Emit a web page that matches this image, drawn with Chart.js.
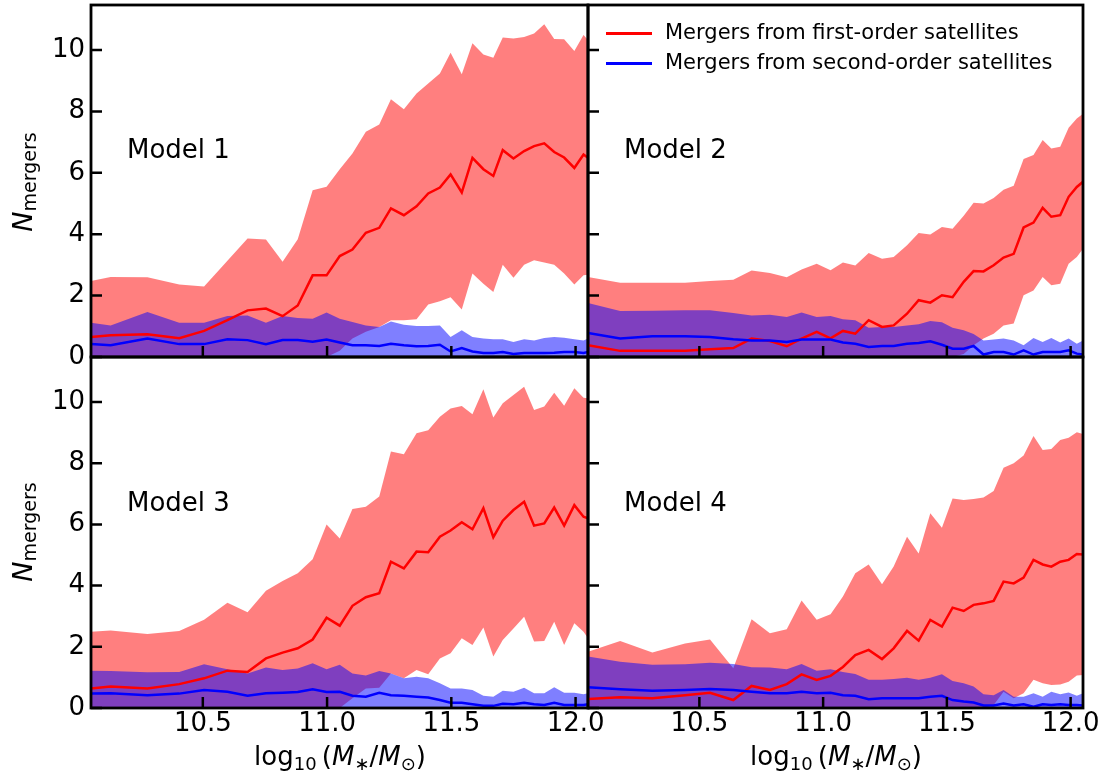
<!DOCTYPE html>
<html>
<head>
<meta charset="utf-8">
<script src="https://cdn.jsdelivr.net/npm/chart.js@4.4.1/dist/chart.umd.min.js"></script>
<style>
    body { margin: 0; width: 1106px; height: 777px; position: relative; overflow: hidden; background: #fff; font-family: "DejaVu Sans", sans-serif; color: #000; }
    canvas { position: absolute; left: 0; top: 0; }
    .txt { position: absolute; z-index: 5; white-space: nowrap; line-height: 1; }
    .model { font-size: 26px; }
    .legend { font-size: 21px; }
    .key { position: absolute; z-index: 5; width: 46px; height: 2.5px; }
    .ylab { font-size: 27px; line-height: 27px; transform: translate(-50%, -50%) rotate(-90deg); }
    .xlab { font-size: 26px; transform: translateX(-50%); }
    .sub { position: relative; font-size: 19px; top: 4px; }
    .xsub { position: relative; font-size: 18px; top: 5px; }
</style>
</head>
<body>
<div class="txt model" style="left:127px; top:136px;">Model 1</div>
<div class="txt model" style="left:624px; top:136px;">Model 2</div>
<div class="txt model" style="left:127px; top:489px;">Model 3</div>
<div class="txt model" style="left:624px; top:489px;">Model 4</div>

<div class="key" style="left:606px; top:32px; background:#ff0000;"></div>
<div class="txt legend" style="left:665px; top:22px;">Mergers from first-order satellites</div>
<div class="key" style="left:606px; top:62px; background:#0000ff;"></div>
<div class="txt legend" style="left:665px; top:52px;">Mergers from second-order satellites</div>

<div class="txt ylab" style="left:24px; top:182px;"><i>N</i><span class="sub">mergers</span></div>
<div class="txt ylab" style="left:24px; top:532px;"><i>N</i><span class="sub">mergers</span></div>
<div class="txt xlab" style="left:340px; top:743px;">log<span class="xsub">10</span>&#8201;(<i>M</i><span class="xsub">&#8727;</span>/<i>M</i><span class="xsub">&#8857;</span>)</div>
<div class="txt xlab" style="left:836px; top:743px;">log<span class="xsub">10</span>&#8201;(<i>M</i><span class="xsub">&#8727;</span>/<i>M</i><span class="xsub">&#8857;</span>)</div>

<script>
// stellar mass bins (log10 M*/Msun); models 1 & 3 share one set, 2 & 4 the other
const massBinsA = [10.05, 10.129, 10.277, 10.405, 10.505, 10.599, 10.680, 10.754, 10.821, 10.882, 10.942, 10.998,
    11.051, 11.102, 11.156, 11.210, 11.257, 11.309, 11.360, 11.407, 11.454, 11.497, 11.542, 11.585,
    11.629, 11.669, 11.707, 11.750, 11.793, 11.833, 11.874, 11.914, 11.954, 11.995, 12.032, 12.05];
const massBinsB = [10.05, 10.180, 10.310, 10.442, 10.543, 10.637, 10.711, 10.785, 10.853, 10.913, 10.974, 11.030,
    11.080, 11.130, 11.184, 11.238, 11.285, 11.339, 11.386, 11.433, 11.480, 11.523, 11.568, 11.608,
    11.648, 11.689, 11.729, 11.770, 11.810, 11.850, 11.887, 11.922, 11.958, 11.992, 12.025, 12.05];

const xTicks = [10.5, 11.0, 11.5, 12.0];
const yTicks = [0, 2, 4, 6, 8, 10];

// lower edge of the second-order band sits on zero for every model
const secondLow = [0, 0, 0, 0, 0, 0, 0, 0, 0, 0, 0, 0, 0, 0, 0, 0, 0, 0,
    0, 0, 0, 0, 0, 0, 0, 0, 0, 0, 0, 0, 0, 0, 0, 0, 0, 0];

// Model 1
const m1FirstMid = [0.65, 0.71, 0.74, 0.61, 0.85, 1.20, 1.52, 1.58, 1.33, 1.68, 2.66, 2.66,
    3.29, 3.50, 4.05, 4.21, 4.84, 4.62, 4.91, 5.33, 5.52, 5.95, 5.36, 6.49,
    6.12, 5.90, 6.74, 6.47, 6.71, 6.87, 6.96, 6.68, 6.50, 6.16, 6.60, 6.49];
const m1FirstHigh = [2.48, 2.61, 2.60, 2.36, 2.30, 3.14, 3.86, 3.83, 3.10, 3.84, 5.43, 5.55,
    6.12, 6.63, 7.34, 7.58, 8.40, 8.07, 8.59, 8.91, 9.24, 9.91, 9.21, 10.22,
    9.86, 9.75, 10.41, 10.38, 10.43, 10.54, 10.84, 10.36, 10.35, 9.97, 10.49, 10.33];
const m1FirstLow = [0, 0, 0, 0, 0, 0, 0, 0, 0, 0, 0, 0,
    0.20, 0.60, 0.82, 0.98, 1.20, 1.20, 1.23, 1.71, 1.82, 1.95, 1.55, 2.72,
    2.39, 2.12, 3.01, 2.58, 3.01, 3.15, 3.08, 3.01, 2.72, 2.36, 2.66, 2.68];
const m1SecondMid = [0.42, 0.38, 0.60, 0.42, 0.42, 0.58, 0.55, 0.42, 0.55, 0.55, 0.50, 0.57,
    0.47, 0.38, 0.38, 0.36, 0.43, 0.38, 0.35, 0.36, 0.40, 0.18, 0.29, 0.18,
    0.13, 0.13, 0.16, 0.10, 0.13, 0.13, 0.13, 0.14, 0.16, 0.16, 0.13, 0.16];
const m1SecondHigh = [1.12, 1.03, 1.47, 1.12, 1.12, 1.34, 1.35, 1.12, 1.34, 1.27, 1.25, 1.45,
    1.25, 1.14, 1.03, 0.98, 1.16, 1.05, 1.01, 1.01, 1.03, 0.65, 0.87, 0.65,
    0.60, 0.58, 0.58, 0.49, 0.58, 0.54, 0.62, 0.65, 0.63, 0.58, 0.54, 0.60];

// Model 2
const m2FirstMid = [0.38, 0.20, 0.20, 0.20, 0.25, 0.29, 0.60, 0.52, 0.35, 0.60, 0.82, 0.61,
    0.85, 0.76, 1.20, 0.98, 1.03, 1.41, 1.85, 1.77, 2.01, 1.95, 2.45, 2.80,
    2.79, 2.99, 3.24, 3.36, 4.22, 4.38, 4.86, 4.57, 4.62, 5.22, 5.54, 5.71];
const m2FirstHigh = [2.61, 2.42, 2.42, 2.42, 2.48, 2.52, 2.82, 2.74, 2.60, 2.85, 3.04, 2.83,
    3.08, 2.98, 3.39, 3.20, 3.26, 3.64, 4.04, 3.99, 4.24, 4.18, 4.60, 5.03,
    5.00, 5.18, 5.45, 5.58, 6.45, 6.58, 7.07, 6.79, 6.85, 7.47, 7.77, 7.93];
const m2FirstLow = [0, 0, 0, 0, 0, 0, 0, 0, 0, 0, 0, 0,
    0, 0, 0, 0, 0, 0, 0, 0, 0, 0, 0.10, 0.38,
    0.60, 0.76, 1.03, 1.09, 2.01, 2.17, 2.61, 2.34, 2.39, 3.04, 3.26, 3.53];
const m2SecondMid = [0.78, 0.60, 0.68, 0.68, 0.65, 0.58, 0.54, 0.54, 0.49, 0.57, 0.57, 0.57,
    0.47, 0.43, 0.33, 0.36, 0.36, 0.43, 0.46, 0.51, 0.40, 0.27, 0.27, 0.36,
    0.08, 0.16, 0.16, 0.08, 0.22, 0.08, 0.16, 0.16, 0.16, 0.22, 0.11, 0.08];
const m2SecondHigh = [1.76, 1.50, 1.51, 1.52, 1.52, 1.43, 1.35, 1.38, 1.30, 1.45, 1.30, 1.34,
    1.23, 1.20, 0.95, 0.98, 0.98, 1.03, 1.07, 1.17, 1.13, 0.95, 0.87, 0.75,
    0.54, 0.57, 0.60, 0.54, 0.38, 0.62, 0.49, 0.62, 0.47, 0.60, 0.43, 0.54];

// Model 3
const m3FirstMid = [0.64, 0.70, 0.64, 0.78, 0.97, 1.22, 1.18, 1.62, 1.81, 1.95, 2.24, 2.95,
    2.69, 3.34, 3.62, 3.75, 4.78, 4.56, 5.11, 5.09, 5.60, 5.80, 6.07, 5.84,
    6.53, 5.58, 6.12, 6.47, 6.74, 5.96, 6.03, 6.55, 5.96, 6.63, 6.25, 6.20];
const m3FirstHigh = [2.49, 2.53, 2.42, 2.52, 2.88, 3.44, 3.13, 3.83, 4.15, 4.40, 4.86, 6.00,
    5.54, 6.50, 6.58, 6.91, 8.38, 8.29, 8.98, 9.08, 9.52, 9.79, 9.87, 9.60,
    10.42, 9.49, 9.96, 10.23, 10.50, 9.74, 9.85, 10.30, 9.88, 10.45, 10.14, 10.12];
const m3FirstLow = [0, 0, 0, 0, 0, 0, 0, 0, 0, 0, 0, 0,
    0, 0.32, 0.64, 0.66, 1.13, 0.97, 1.24, 1.10, 1.62, 1.79, 2.28, 2.06,
    2.63, 1.68, 2.22, 2.60, 2.98, 2.17, 2.19, 2.82, 2.06, 2.77, 2.49, 2.28];
const m3SecondMid = [0.47, 0.48, 0.42, 0.47, 0.59, 0.53, 0.40, 0.48, 0.50, 0.52, 0.61, 0.52,
    0.53, 0.40, 0.37, 0.50, 0.42, 0.40, 0.37, 0.34, 0.26, 0.17, 0.17, 0.12,
    0.07, 0.07, 0.14, 0.12, 0.17, 0.12, 0.10, 0.17, 0.10, 0.10, 0.10, 0.12];
const m3SecondHigh = [1.22, 1.21, 1.17, 1.18, 1.43, 1.27, 1.13, 1.32, 1.24, 1.29, 1.46, 1.27,
    1.41, 1.13, 1.06, 1.21, 1.13, 0.97, 1.02, 0.97, 0.81, 0.64, 0.64, 0.59,
    0.40, 0.37, 0.56, 0.53, 0.66, 0.48, 0.48, 0.68, 0.50, 0.50, 0.45, 0.48];

// Model 4
const m4FirstMid = [0.29, 0.35, 0.32, 0.42, 0.50, 0.26, 0.72, 0.59, 0.78, 1.10, 0.92, 1.05,
    1.34, 1.73, 1.90, 1.60, 1.95, 2.52, 2.20, 2.88, 2.66, 3.28, 3.17, 3.37,
    3.42, 3.50, 4.13, 4.07, 4.26, 4.84, 4.69, 4.62, 4.78, 4.84, 5.03, 5.02];
const m4FirstHigh = [1.84, 2.19, 1.81, 2.11, 2.24, 1.30, 2.90, 2.44, 2.57, 3.51, 2.88, 3.06,
    3.64, 4.40, 4.69, 4.04, 4.62, 5.60, 5.05, 6.36, 5.89, 6.85, 6.80, 6.83,
    6.88, 7.09, 7.85, 8.00, 8.25, 8.89, 8.43, 8.46, 8.76, 8.83, 9.01, 8.95];
const m4FirstLow = [0, 0, 0, 0, 0, 0, 0, 0, 0, 0, 0, 0,
    0, 0, 0, 0, 0, 0, 0, 0, 0, 0, 0, 0,
    0, 0.10, 0.53, 0.32, 0.48, 0.92, 0.81, 0.75, 0.77, 0.86, 1.06, 1.08];
const m4SecondMid = [0.68, 0.61, 0.56, 0.59, 0.62, 0.59, 0.53, 0.48, 0.48, 0.53, 0.48, 0.50,
    0.42, 0.40, 0.29, 0.32, 0.32, 0.32, 0.32, 0.37, 0.40, 0.26, 0.21, 0.18,
    0.08, 0.08, 0.15, 0.08, 0.12, 0.04, 0.12, 0.10, 0.12, 0.10, 0.10, 0.08];
const m4SecondHigh = [1.68, 1.51, 1.41, 1.43, 1.48, 1.44, 1.33, 1.32, 1.27, 1.44, 1.22, 1.27,
    1.18, 1.11, 0.92, 0.92, 0.95, 0.99, 0.92, 0.99, 1.10, 0.88, 0.81, 0.70,
    0.45, 0.42, 0.59, 0.37, 0.37, 0.48, 0.37, 0.53, 0.45, 0.51, 0.40, 0.48];

const X_MIN = 10.05, X_MAX = 12.05;
const Y_MAX = 11.47;
const W = 1106, H = 777;
const tickFont = { family: "DejaVu Sans", size: 26 };

// area = [left, top, right, bottom] of each plot box in page pixels
const panels = [
    { mass: massBinsA, mid: m1FirstMid, low: m1FirstLow, high: m1FirstHigh, mid2: m1SecondMid, high2: m1SecondHigh, area: [91, 5, 588, 357], yLabels: true, xLabels: false },
    { mass: massBinsB, mid: m2FirstMid, low: m2FirstLow, high: m2FirstHigh, mid2: m2SecondMid, high2: m2SecondHigh, area: [588, 5, 1083, 357], yLabels: false, xLabels: false },
    { mass: massBinsA, mid: m3FirstMid, low: m3FirstLow, high: m3FirstHigh, mid2: m3SecondMid, high2: m3SecondHigh, area: [91, 357, 588, 708], yLabels: true, xLabels: true },
    { mass: massBinsB, mid: m4FirstMid, low: m4FirstLow, high: m4FirstHigh, mid2: m4SecondMid, high2: m4SecondHigh, area: [588, 357, 1083, 708], yLabels: false, xLabels: true }
];

function toPoints(xs, ys) {
    return xs.map((x, i) => ({ x: x, y: ys[i] }));
}

// black frame plus inward ticks on the left and bottom sides
const framePlugin = {
    id: "frame",
    afterDatasetsDraw(chart) {
        const { ctx, chartArea: a, scales } = chart;
        ctx.save();
        ctx.strokeStyle = "#000";
        ctx.lineWidth = 2.5;
        ctx.beginPath();
        yTicks.forEach(v => {
            const y = scales.y.getPixelForValue(v);
            ctx.moveTo(a.left, y);
            ctx.lineTo(a.left + 11, y);
        });
        xTicks.forEach(v => {
            const x = scales.x.getPixelForValue(v);
            ctx.moveTo(x, a.bottom);
            ctx.lineTo(x, a.bottom - 11);
        });
        ctx.stroke();
        ctx.lineWidth = 2.8;
        ctx.strokeRect(a.left, a.top, a.right - a.left, a.bottom - a.top);
        ctx.restore();
    }
};

function makePanel(p) {
    const canvas = document.createElement("canvas");
    canvas.width = W;
    canvas.height = H;
    document.body.appendChild(canvas);

    const [left, top, right, bottom] = p.area;
    const xAxisHeight = 40;

    const band = (data, color, fill, order) => ({
        data: toPoints(p.mass, data),
        borderWidth: 0,
        pointRadius: 0,
        backgroundColor: color,
        fill: fill,
        order: order
    });
    const line = (data, color, order) => ({
        data: toPoints(p.mass, data),
        borderColor: color,
        borderWidth: 2.5,
        pointRadius: 0,
        tension: 0,
        fill: false,
        order: order
    });

    new Chart(canvas.getContext("2d"), {
        type: "line",
        data: {
            datasets: [
                band(p.low, "rgba(0,0,0,0)", false, 6),
                band(p.high, "rgba(255,0,0,0.5)", "-1", 5),
                band(secondLow, "rgba(0,0,0,0)", false, 4),
                band(p.high2, "rgba(0,0,255,0.5)", "-1", 3),
                line(p.mid, "#ff0000", 2),
                line(p.mid2, "#0000ff", 1)
            ]
        },
        options: {
            responsive: false,
            animation: false,
            devicePixelRatio: 1,
            layout: { padding: { left: 0, top: top, right: W - right, bottom: H - bottom - xAxisHeight } },
            plugins: { legend: { display: false }, tooltip: { enabled: false } },
            scales: {
                x: {
                    type: "linear",
                    min: X_MIN,
                    max: X_MAX,
                    grid: { display: false, drawTicks: false },
                    border: { display: false },
                    afterBuildTicks: s => { s.ticks = xTicks.map(v => ({ value: v })); },
                    afterFit: s => { s.height = xAxisHeight; s.paddingLeft = 0; s.paddingRight = 0; },
                    ticks: {
                        display: p.xLabels,
                        autoSkip: false,
                        maxRotation: 0,
                        padding: 1,
                        color: "#000",
                        font: tickFont,
                        callback: v => v.toFixed(1)
                    }
                },
                y: {
                    type: "linear",
                    min: 0,
                    max: Y_MAX,
                    grid: { display: false, drawTicks: false },
                    border: { display: false },
                    afterBuildTicks: s => { s.ticks = yTicks.map(v => ({ value: v })); },
                    afterFit: s => { s.width = left; s.paddingTop = 0; s.paddingBottom = 0; },
                    ticks: {
                        display: p.yLabels,
                        padding: 6,
                        color: "#000",
                        font: tickFont,
                        callback: v => String(v)
                    }
                }
            }
        },
        plugins: [framePlugin]
    });
}

panels.forEach(makePanel);
</script>
</body>
</html>
